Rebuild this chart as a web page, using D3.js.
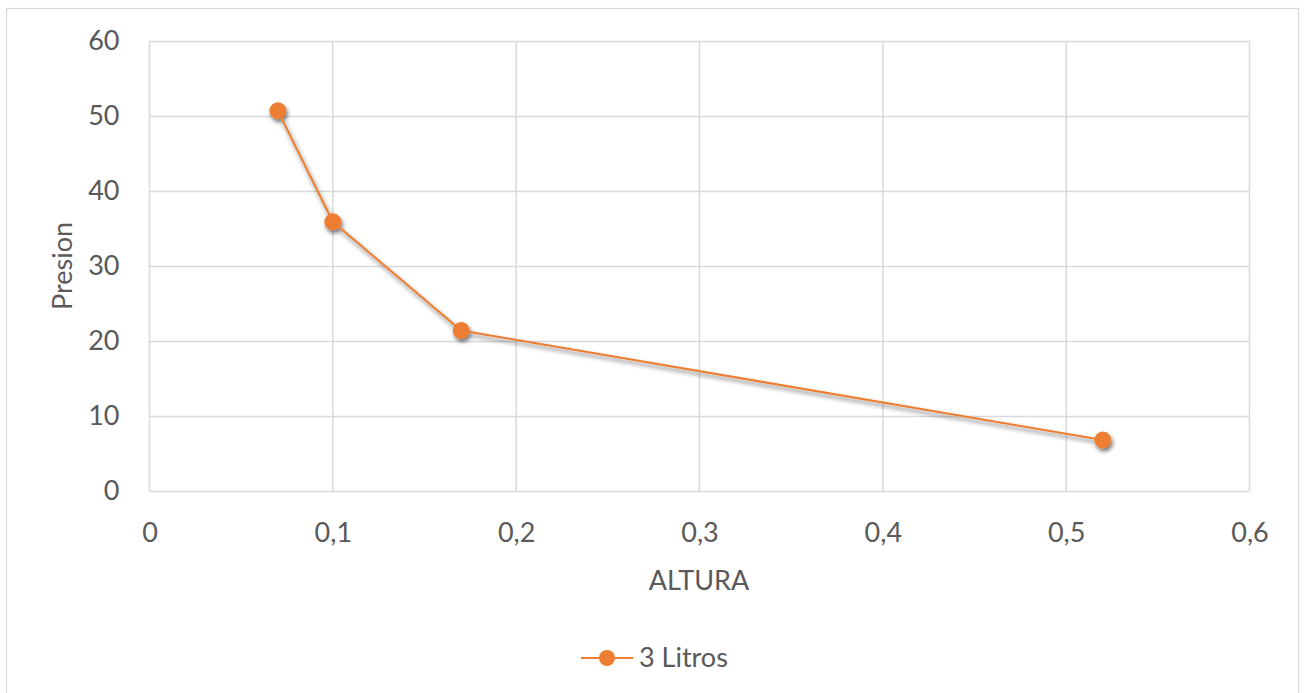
<!DOCTYPE html>
<html>
<head>
<meta charset="utf-8">
<script src="https://cdn.jsdelivr.net/npm/d3@7"></script>
<style>
  html, body { margin: 0; padding: 0; background: #fff; }
  svg { display: block; }
  text { font-family: Lato, "Open Sans", sans-serif; fill: #595959; }
</style>
</head>
<body>
<svg id="chart" width="1304" height="693"></svg>
<script>
const seriesName = "3 Litros";
const alturaValues = [0.07, 0.1, 0.17, 0.52];
const presionValues = [50.7, 35.9, 21.4, 6.8];
const xTicks = [0, 0.1, 0.2, 0.3, 0.4, 0.5, 0.6];
const yTicks = [0, 10, 20, 30, 40, 50, 60];
const xTitle = "ALTURA";
const yTitle = "Presion";

const svg = d3.select("#chart");
const color = "#ED7D31";
const gridColor = "#D9D9D9";
const FS = 27;

const defs = svg.append("defs");
const f = defs.append("filter").attr("id", "shadow")
  .attr("x", "-50%").attr("y", "-50%").attr("width", "200%").attr("height", "200%");
f.append("feDropShadow").attr("dx", 1.5).attr("dy", 3).attr("stdDeviation", 2.2)
  .attr("flood-color", "#000").attr("flood-opacity", 0.55);

// outer border
svg.append("rect").attr("x", 6.5).attr("y", 8.5).attr("width", 1292).attr("height", 700)
  .attr("fill", "#fff").attr("stroke", gridColor).attr("stroke-width", 1.3);

const x = d3.scaleLinear().domain([0, 0.6]).range([149.5, 1249.5]);
const y = d3.scaleLinear().domain([0, 60]).range([491, 41]);

const fmt = d => String(+d.toFixed(1)).replace(".", ",");

// gridlines
const g = svg.append("g");
g.selectAll("line.h").data(yTicks).join("line")
  .attr("x1", x(0)).attr("x2", x(0.6))
  .attr("y1", d => Math.round(y(d)) + 0.5).attr("y2", d => Math.round(y(d)) + 0.5)
  .attr("stroke", gridColor).attr("stroke-width", 1.5);
g.selectAll("line.v").data(xTicks).join("line")
  .attr("y1", y(0)).attr("y2", y(60))
  .attr("x1", d => x(d)).attr("x2", d => x(d))
  .attr("stroke", gridColor).attr("stroke-width", 1.5);

// axes labels via d3 axes
const xAxis = svg.append("g").attr("transform", `translate(0,${y(0)})`)
  .call(d3.axisBottom(x).tickValues(xTicks).tickFormat(fmt).tickSize(0).tickPadding(32));
xAxis.select(".domain").remove();
xAxis.attr("font-size", null).attr("font-family", null);
xAxis.selectAll("text").attr("font-size", FS).style("font-size", FS + "px").attr("fill", "#595959");

const yAxis = svg.append("g").attr("transform", `translate(${x(0)},0)`)
  .call(d3.axisLeft(y).tickValues(yTicks).tickFormat(d => d).tickSize(0).tickPadding(30));
yAxis.select(".domain").remove();
yAxis.attr("font-size", null).attr("font-family", null);
yAxis.selectAll("text").attr("font-size", FS).style("font-size", FS + "px").attr("fill", "#595959");

// titles
svg.append("text").attr("x", 699).attr("y", 590).attr("text-anchor", "middle")
  .style("font-size", FS + "px").text(xTitle);
svg.append("text").attr("transform", `translate(72,266) rotate(-90)`)
  .attr("text-anchor", "middle").style("font-size", FS + "px").text(yTitle);

// series
const data = alturaValues.map((a, i) => ({ a, p: presionValues[i] }));
const line = d3.line().x(d => x(d.a)).y(d => y(d.p));
const sg = svg.append("g").attr("filter", "url(#shadow)");
sg.append("path").datum(data).attr("d", line)
  .attr("fill", "none").attr("stroke", color).attr("stroke-width", 2);
sg.selectAll("circle").data(data).join("circle")
  .attr("cx", d => x(d.a)).attr("cy", d => y(d.p)).attr("r", 8)
  .attr("fill", color).attr("stroke", color).attr("stroke-width", 1);

// legend
const lg = svg.append("g");
lg.append("line").attr("x1", 581).attr("x2", 633).attr("y1", 658).attr("y2", 658)
  .attr("stroke", color).attr("stroke-width", 2);
lg.append("circle").attr("cx", 607).attr("cy", 658).attr("r", 8).attr("fill", color);
lg.append("text").attr("x", 639).attr("y", 667).style("font-size", FS + "px").text(seriesName);
</script>
</body>
</html>
